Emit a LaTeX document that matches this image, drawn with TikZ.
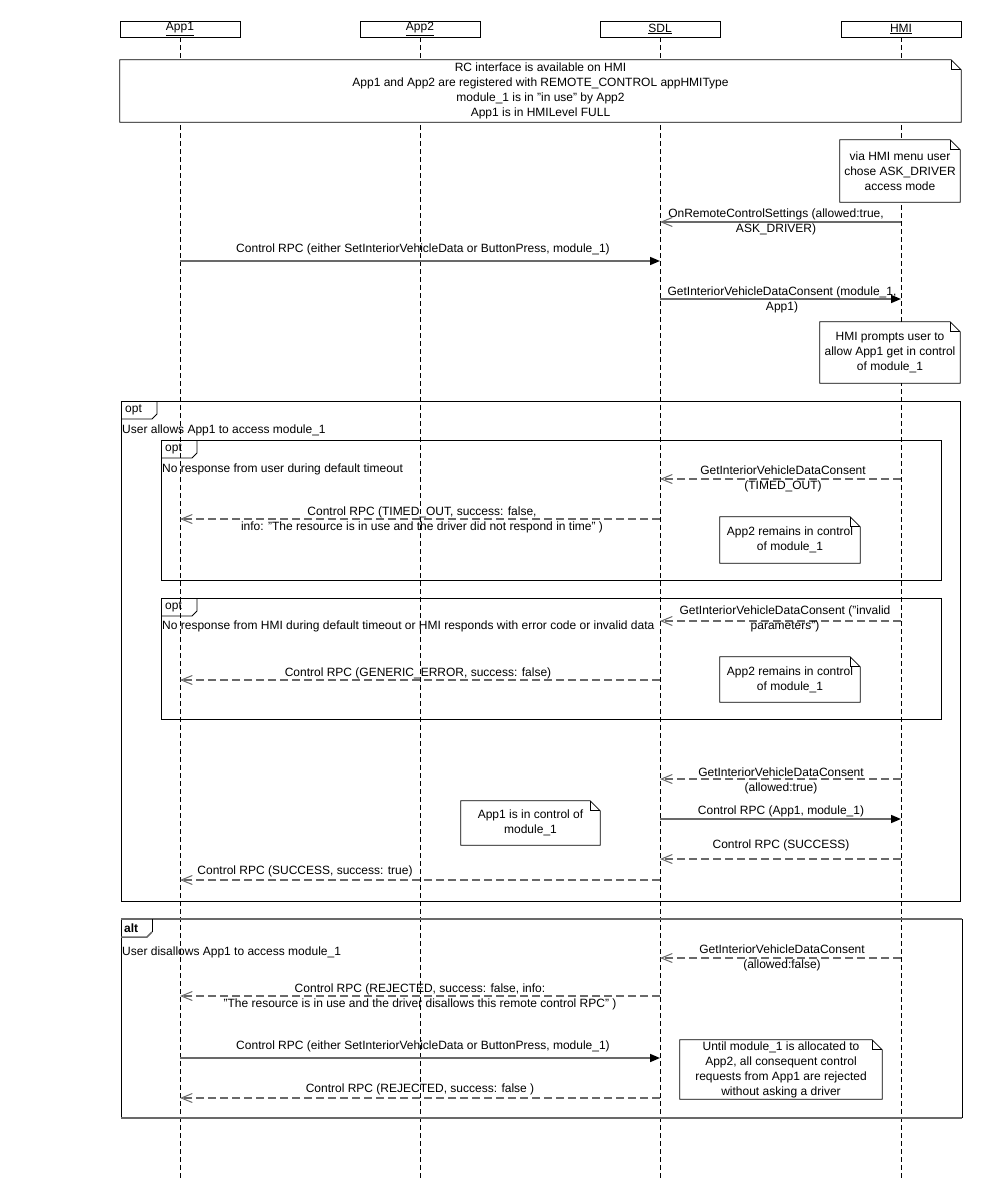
\documentclass[tikz,border=0pt]{standalone}
\usepackage{fontspec}
\setmainfont{Liberation Sans}
\usetikzlibrary{arrows.meta}
\pgfdeclarelayer{bg}
\pgfsetlayers{bg,main}
\definecolor{msggray}{RGB}{105,105,105}
\tikzset{
    every node/.style={font=\fontsize{12}{15}\selectfont, inner sep=0pt},
    actor/.style={draw, fill=white, minimum width=120pt, minimum height=16pt,
    	line width=0.8pt},
    lifeline/.style={line width=0.8pt, dash pattern=on 5pt off 3pt},
    notetext/.style={align=center, fill=white},
    notebox/.style={draw, line width=0.8pt},
    frame/.style={draw, line width=0.9pt},
    guard/.style={anchor=west},
    msglabel/.style={align=center},
    call/.style={msggray, line width=1.6pt,
    	-{Triangle[length=10pt, width=8pt, color=black]}},
    signal/.style={msggray, line width=1.6pt,
    	-{Straight Barb[length=11pt, width=9pt, line width=1pt]}},
    reply/.style={signal, dash pattern=on 8pt off 4pt}
}
% name, center, width, height, text
\newcommand{\umlnote}[5]{%
  \node[notetext, minimum width=#3, minimum height=#4] (#1) at #2 {#5};
  \draw[notebox] (#1.north west) -- ([xshift=-10pt]#1.north east)
    -- ([yshift=-10pt]#1.north east) -- (#1.south east) -- (#1.south west) -- cycle;
  \draw[notebox] ([xshift=-10pt]#1.north east) |- ([yshift=-10pt]#1.north east);
}
% name, x1, y1, x2, y2, tab width, keyword
\newcommand{\fragment}[7]{%
  \draw[frame] (#2,#3) rectangle (#4,#5);
  \node[anchor=west] (#1) at (#2+4,#3+9) {#7};
  \draw[frame] (#2,#3+18) -- (#2+#6-5,#3+18) -- (#2+#6,#3+13) -- (#2+#6,#3);
}

\begin{document}
\begin{tikzpicture}[x=1pt, y=-1pt]
  \useasboundingbox (0,0) rectangle (983,1199);

  \node (app1) [actor] at (180,29) {\underline{App1}};
  \node (app2) [actor] at (420,29) {\underline{App2}};
  \node (sdl) [actor] at (660,29) {\underline{SDL}};
  \node (hmi) [actor] at (901,29) {\underline{HMI}};
  \coordinate (app1end) at (180,1178);
  \coordinate (app2end) at (420,1178);
  \coordinate (sdlend) at (660,1178);
  \coordinate (hmiend) at (901,1178);

  \begin{pgfonlayer}{bg}
	  \draw[lifeline] (app1) -- (app1end); \draw[lifeline] (app2) -- (app2end);
	  \draw[lifeline] (sdl) -- (sdlend); \draw[lifeline] (hmi) -- (hmiend);
  \end{pgfonlayer}

  \umlnote{pre}{(540.5,91)}{841pt}{62pt}{RC interface is available on HMI\\
    App1 and App2 are registered with REMOTE\_CONTROL appHMIType\\
    module\_1 is in "in use" by App2\\App1 is in HMILevel FULL}
  \umlnote{mode}{(900,171)}{120pt}{62pt}{via HMI menu user\\chose ASK\_DRIVER\\access mode}

  \coordinate (m1a) at (901,222); \coordinate (m1b) at (660,222);
  \draw[signal] (m1a) -- (m1b);
  \node (l1) [msglabel] at (776,221.5) {OnRemoteControlSettings (allowed:true,\\ASK\_DRIVER)};

  \coordinate (m2a) at (180,261); \coordinate (m2b) at (660,261);
  \draw[call] (m2a) -- (m2b);
  \node (l2) [msglabel] at (423,249) {Control RPC (either SetInteriorVehicleData or ButtonPress, module\_1)};

  \coordinate (m3a) at (660,299); \coordinate (m3b) at (901,299);
  \draw[call] (m3a) -- (m3b);
  \node (l3) [msglabel] at (782,299.5) {GetInteriorVehicleDataConsent (module\_1,\\App1)};

  \umlnote{prompt}{(890,352.5)}{140pt}{61pt}{HMI prompts user to\\allow App1 get in control\\of module\_1}

  % user allows
  \fragment{opt1}{121}{401}{960}{901}{36}{opt}
  \node (g1) [guard] at (122,430) {User allows App1 to access module\_1};

  \fragment{opt2}{161}{440}{941}{580}{36}{opt}
  \node (g2) [guard] at (162,469) {No response from user during default timeout};

  \coordinate (m4a) at (901,479); \coordinate (m4b) at (660,479);
  \draw[reply] (m4a) -- (m4b);
  \node (l4) [msglabel] at (783,478.5) {GetInteriorVehicleDataConsent\\(TIMED\_OUT)};

  \coordinate (m5a) at (660,519); \coordinate (m5b) at (180,519);
  \draw[reply] (m5a) -- (m5b);
  \node (l5) [msglabel] at (422,519.5) {Control RPC (TIMED\_OUT, success: false,\\
    info: "The resource is in use and the driver did not respond in time" )};

  \umlnote{keep1}{(790,540)}{140pt}{46pt}{App2 remains in control\\of module\_1}

  \fragment{opt3}{161}{598}{941}{719}{36}{opt}
  \node (g3) [guard] at (162,626) {No response from HMI during default timeout or HMI responds with error code or invalid data};

  \coordinate (m6a) at (901,621); \coordinate (m6b) at (660,621);
  \draw[reply] (m6a) -- (m6b);
  \node (l6) [msglabel] at (785,619) {GetInteriorVehicleDataConsent ("invalid\\parameters")};

  \coordinate (m7a) at (660,680); \coordinate (m7b) at (180,680);
  \draw[reply] (m7a) -- (m7b);
  \node (l7) [msglabel] at (418,673) {Control RPC (GENERIC\_ERROR, success: false)};

  \umlnote{keep2}{(790,679.5)}{140pt}{45pt}{App2 remains in control\\of module\_1}

  \coordinate (m8a) at (901,779); \coordinate (m8b) at (660,779);
  \draw[reply] (m8a) -- (m8b);
  \node (l8) [msglabel] at (781,780.5) {GetInteriorVehicleDataConsent\\(allowed:true)};

  \coordinate (m9a) at (660,819); \coordinate (m9b) at (901,819);
  \draw[call] (m9a) -- (m9b);
  \node (l9) [msglabel] at (781,811) {Control RPC (App1, module\_1)};

  \umlnote{inctrl}{(530.5,823)}{139pt}{44pt}{App1 is in control of\\module\_1}

  \coordinate (m10a) at (901,859); \coordinate (m10b) at (660,859);
  \draw[reply] (m10a) -- (m10b);
  \node (l10) [msglabel] at (781,845) {Control RPC (SUCCESS)};

  \coordinate (m11a) at (660,880); \coordinate (m11b) at (180,880);
  \draw[reply] (m11a) -- (m11b);
  \node (l11) [msglabel] at (305,871) {Control RPC (SUCCESS, success: true)};

  % user disallows
  \draw[frame] (121,919) -- (121,1118); \draw[frame] (962,919) -- (962,1118);
  \draw[msggray, line width=1.8pt] (121,919) -- (962,919);
  \draw[msggray, line width=1.8pt] (121,1118) -- (962,1118);
  \draw[msggray, line width=1.5pt] (121,937) -- (147,937) -- (152,932);
  \draw[frame] (152,932) -- (152,919);
  \node (alt) [anchor=west] at (124,928) {\textbf{alt}};
  \node (g4) [guard] at (122,952) {User disallows App1 to access module\_1};

  \coordinate (m12a) at (901,958); \coordinate (m12b) at (660,958);
  \draw[reply] (m12a) -- (m12b);
  \node (l12) [msglabel] at (782,958) {GetInteriorVehicleDataConsent\\(allowed:false)};

  \coordinate (m13a) at (660,996); \coordinate (m13b) at (180,996);
  \draw[reply] (m13a) -- (m13b);
  \node (l13) [msglabel] at (420,996.5) {Control RPC (REJECTED, success: false, info:\\
    "The resource is in use and the driver disallows this remote control RPC" )};

  \coordinate (m14a) at (180,1058); \coordinate (m14b) at (660,1058);
  \draw[call] (m14a) -- (m14b);
  \node (l14) [msglabel] at (423,1046) {Control RPC (either SetInteriorVehicleData or ButtonPress, module\_1)};

  \coordinate (m15a) at (660,1098); \coordinate (m15b) at (180,1098);
  \draw[reply] (m15a) -- (m15b);
  \node (l15) [msglabel] at (420,1089) {Control RPC (REJECTED, success: false )};

  \umlnote{until}{(781,1069.5)}{202pt}{59pt}{Until module\_1 is allocated to\\
    App2, all consequent control\\requests from App1 are rejected\\without asking a driver}

\end{tikzpicture}
\end{document}
